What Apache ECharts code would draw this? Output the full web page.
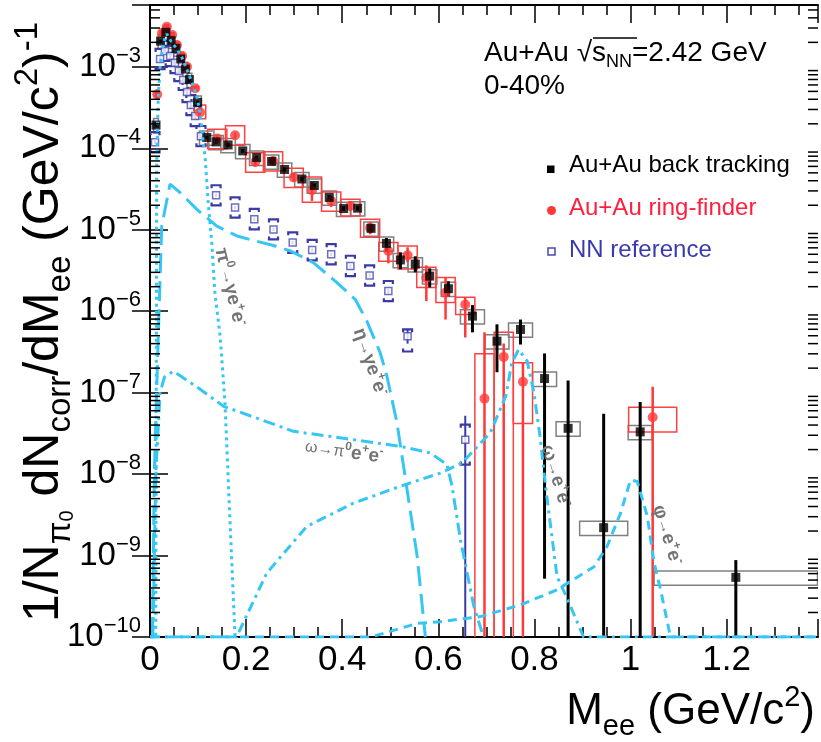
<!DOCTYPE html>
<html>
<head>
<meta charset="utf-8">
<script src="https://cdn.jsdelivr.net/npm/echarts@6/dist/echarts.min.js"></script>
<style>
html, body { margin: 0; padding: 0; background: #fff; }
#chart { width: 821px; height: 742px; }
</style>
</head>
<body>
<div id="chart"></div>
<script>
const FONT = '"Liberation Sans", Arial, Helvetica, sans-serif';
const Y_MIN = 1e-10;
const Y_MAX = 5.75e-3;
const X_MAX = 1.39;
const CURVE = '#35c6f4';
const RED = '#ff3838';
const BLUE = '#3a3aa4';

// Au+Au back tracking
const btX = [0.0125, 0.022, 0.033, 0.044, 0.054, 0.064, 0.0735, 0.082, 0.099, 0.118, 0.1375, 0.1625, 0.193, 0.222, 0.253, 0.28, 0.316, 0.342, 0.373, 0.403, 0.432, 0.46, 0.492, 0.521, 0.552, 0.582, 0.621, 0.671, 0.722, 0.771, 0.821, 0.87, 0.944, 1.02, 1.219];
const btY = [1.93e-4, 2.07e-3, 2.66e-3, 2.10e-3, 1.69e-3, 1.25e-3, 9.4e-4, 6.97e-4, 3.67e-4, 1.36e-4, 1.20e-4, 1.10e-4, 9.3e-5, 7.7e-5, 6.9e-5, 5.5e-5, 4.2e-5, 3.5e-5, 2.5e-5, 1.82e-5, 1.84e-5, 1.04e-5, 6.8e-6, 4.26e-6, 3.79e-6, 2.7e-6, 1.89e-6, 8.7e-7, 4.29e-7, 5.97e-7, 1.49e-7, 3.65e-8, 2.2e-9, 3.3e-8, 5.4e-10];
const btLo = [1.80e-4, 1.99e-3, 2.56e-3, 2.02e-3, 1.62e-3, 1.20e-3, 9.0e-4, 6.7e-4, 3.5e-4, 1.29e-4, 1.14e-4, 1.04e-4, 8.8e-5, 7.3e-5, 6.5e-5, 5.2e-5, 3.95e-5, 3.3e-5, 2.35e-5, 1.7e-5, 1.72e-5, 9.3e-6, 5.4e-6, 3.27e-6, 3.0e-6, 1.96e-6, 1.52e-6, 5.5e-7, 1.78e-7, 3.9e-7, 5.2e-10, 1e-11, 1e-11, 1e-11, 1e-11];
const btHi = [2.07e-4, 2.15e-3, 2.77e-3, 2.18e-3, 1.76e-3, 1.30e-3, 9.8e-4, 7.25e-4, 3.85e-4, 1.43e-4, 1.26e-4, 1.16e-4, 9.8e-5, 8.1e-5, 7.3e-5, 5.8e-5, 4.45e-5, 3.7e-5, 2.65e-5, 1.95e-5, 1.97e-5, 1.16e-5, 7.9e-6, 5.28e-6, 4.72e-6, 3.36e-6, 2.33e-6, 1.19e-6, 6.9e-7, 7.9e-7, 3.03e-7, 1.41e-7, 5.5e-8, 7.7e-8, 8.8e-10];
const btDx = [0.005, 0.005, 0.005, 0.005, 0.005, 0.005, 0.005, 0.005, 0.008, 0.015, 0.015, 0.015, 0.015, 0.015, 0.015, 0.015, 0.015, 0.015, 0.015, 0.015, 0.015, 0.015, 0.015, 0.015, 0.015, 0.015, 0.015, 0.025, 0.025, 0.025, 0.025, 0.025, 0.05, 0.025, 0.17];
const btSys = 0.2;

// Au+Au ring-finder
const rfX = [0.015, 0.025, 0.035, 0.046, 0.056, 0.067, 0.077, 0.094, 0.104, 0.14, 0.177, 0.219, 0.256, 0.299, 0.337, 0.377, 0.417, 0.458, 0.496, 0.536, 0.575, 0.615, 0.656, 0.696, 0.736, 0.776, 1.046];
const rfY = [4.6e-4, 2.61e-3, 3.1e-3, 2.47e-3, 1.86e-3, 1.36e-3, 1.0e-3, 5.46e-4, 2.76e-4, 1.32e-4, 1.45e-4, 6.8e-5, 7.0e-5, 4.4e-5, 3.06e-5, 2.25e-5, 1.96e-5, 1.06e-5, 5.48e-6, 4.85e-6, 2.58e-6, 1.69e-6, 1.21e-6, 8.45e-8, 2.75e-7, 1.36e-7, 5.0e-8];
const rfLo = [4.0e-4, 2.45e-3, 2.9e-3, 2.32e-3, 1.75e-3, 1.28e-3, 9.4e-4, 5.1e-4, 2.55e-4, 1.22e-4, 1.34e-4, 6.0e-5, 6.2e-5, 3.9e-5, 2.26e-5, 1.9e-5, 1.7e-5, 8.8e-6, 3.87e-6, 4.0e-6, 1.33e-6, 7.9e-7, 4.76e-7, 1e-11, 1e-11, 1e-11, 1e-11];
const rfHi = [5.3e-4, 2.78e-3, 3.3e-3, 2.63e-3, 1.98e-3, 1.45e-3, 1.07e-3, 5.8e-4, 2.98e-4, 1.43e-4, 1.57e-4, 7.7e-5, 7.9e-5, 5.0e-5, 3.84e-5, 2.6e-5, 2.25e-5, 1.25e-5, 6.27e-6, 6.1e-6, 3.66e-6, 2.6e-6, 1.48e-6, 5.5e-7, 4.0e-7, 2.33e-7, 1.18e-7];
const rfDx = [0.004, 0.004, 0.004, 0.004, 0.004, 0.004, 0.004, 0.006, 0.012, 0.02, 0.02, 0.02, 0.02, 0.02, 0.02, 0.02, 0.02, 0.02, 0.02, 0.02, 0.02, 0.02, 0.02, 0.02, 0.02, 0.02, 0.05];
const rfSysLo = [4.3e-4, 2.45e-3, 2.9e-3, 2.32e-3, 1.75e-3, 1.28e-3, 9.4e-4, 5.1e-4, 2.3e-4, 9.9e-5, 1.09e-4, 5.1e-5, 5.25e-5, 3.3e-5, 2.18e-5, 1.69e-5, 1.48e-5, 8.1e-6, 4.1e-6, 3.3e-6, 1.96e-6, 1.28e-6, 9.1e-7, 1e-11, 1e-11, 4.17e-8, 3.3e-8];
const rfSysHi = [4.9e-4, 2.78e-3, 3.3e-3, 2.63e-3, 1.98e-3, 1.45e-3, 1.07e-3, 5.8e-4, 3.4e-4, 1.72e-4, 1.89e-4, 8.8e-5, 9.1e-5, 5.7e-5, 4.43e-5, 2.9e-5, 2.37e-5, 1.35e-5, 7.0e-6, 6.3e-6, 3.46e-6, 2.6e-6, 1.48e-6, 3.0e-7, 5.5e-7, 2.33e-7, 6.6e-8];

// NN reference
const nnX = [0.0104, 0.021, 0.031, 0.042, 0.052, 0.06, 0.069, 0.077, 0.085, 0.094, 0.106, 0.1375, 0.177, 0.217, 0.257, 0.297, 0.3375, 0.377, 0.417, 0.457, 0.496, 0.536, 0.656];
const nnY = [1.19e-4, 1.25e-3, 1.57e-3, 1.36e-3, 1.12e-3, 8.9e-4, 6.9e-4, 4.9e-4, 3.4e-4, 2.49e-4, 1.41e-4, 2.65e-5, 1.88e-5, 1.35e-5, 1.01e-5, 6.96e-6, 5.65e-6, 5.0e-6, 3.59e-6, 2.75e-6, 1.77e-6, 4.94e-7, 2.65e-8];
const nnLo = [1.13e-4, 1.19e-3, 1.49e-3, 1.29e-3, 1.06e-3, 8.5e-4, 6.6e-4, 4.65e-4, 3.23e-4, 2.37e-4, 1.34e-4, 2.52e-5, 1.79e-5, 1.28e-5, 9.6e-6, 6.6e-6, 5.37e-6, 4.75e-6, 3.41e-6, 2.6e-6, 1.65e-6, 4.0e-7, 1e-11];
const nnHi = [1.25e-4, 1.31e-3, 1.65e-3, 1.43e-3, 1.18e-3, 9.3e-4, 7.2e-4, 5.15e-4, 3.57e-4, 2.61e-4, 1.48e-4, 2.78e-5, 1.97e-5, 1.42e-5, 1.06e-5, 7.3e-6, 5.93e-6, 5.25e-6, 3.77e-6, 2.9e-6, 1.89e-6, 6.0e-7, 5.2e-8];
const nnSysLo = [8.9e-5, 9.4e-4, 1.18e-3, 1.02e-3, 8.4e-4, 6.7e-4, 5.2e-4, 3.7e-4, 2.55e-4, 1.87e-4, 1.06e-4, 1.99e-5, 1.41e-5, 1.01e-5, 7.6e-6, 5.2e-6, 4.2e-6, 3.75e-6, 2.7e-6, 2.06e-6, 1.33e-6, 3.2e-7, 1.31e-8];
const nnSysHi = [1.58e-4, 1.66e-3, 2.09e-3, 1.81e-3, 1.49e-3, 1.18e-3, 9.2e-4, 6.5e-4, 4.5e-4, 3.3e-4, 1.88e-4, 3.52e-5, 2.5e-5, 1.8e-5, 1.34e-5, 9.3e-6, 7.5e-6, 6.65e-6, 4.8e-6, 3.66e-6, 2.35e-6, 6.0e-7, 4.05e-8];

// cocktail curves
const pi0X = [0.0, 0.012, 0.013, 0.014, 0.017, 0.021, 0.028, 0.035, 0.045, 0.056, 0.066, 0.0765, 0.087, 0.097, 0.104, 0.11, 0.115, 0.121, 0.1285, 0.135, 0.146, 0.156, 0.167, 0.177];
const pi0Y = [1e-10, 1e-10, 1e-7, 6e-5, 4e-4, 1.03e-3, 2.0e-3, 2.54e-3, 2.0e-3, 1.66e-3, 1.32e-3, 9.4e-4, 6.5e-4, 4.4e-4, 2.79e-4, 1.3e-4, 7.4e-5, 2.18e-5, 7.0e-6, 1.7e-6, 4.9e-7, 7.6e-8, 2.25e-9, 1.0e-10];
const etaX = [0.005, 0.009, 0.017, 0.0244, 0.0417, 0.0625, 0.097, 0.139, 0.181, 0.208, 0.257, 0.292, 0.34, 0.389, 0.427, 0.451, 0.479, 0.493, 0.514, 0.535, 0.556, 0.573];
const etaY = [1e-10, 1e-8, 4.5e-7, 1.11e-5, 3.63e-5, 2.87e-5, 1.79e-5, 1.11e-5, 8.4e-6, 7.6e-6, 6.4e-6, 5.5e-6, 3.95e-6, 2.24e-6, 1.4e-6, 7.6e-7, 3.09e-7, 1.59e-7, 4.25e-8, 6.4e-9, 9.7e-10, 1.0e-10];
const omPi0X = [0.006, 0.012, 0.021, 0.03, 0.0485, 0.1, 0.153, 0.2985, 0.4235, 0.521, 0.583, 0.618, 0.6285, 0.646, 0.674, 0.694];
const omPi0Y = [1e-10, 1e-8, 1e-7, 1.55e-7, 1.83e-7, 1.15e-7, 6.8e-8, 3.35e-8, 2.65e-8, 2.19e-8, 1.82e-8, 1.31e-8, 7.1e-9, 1.56e-9, 2.36e-10, 1.0e-10];
const omEeX = [0.0, 0.18, 0.243, 0.326, 0.4235, 0.521, 0.604, 0.649, 0.708, 0.74, 0.753, 0.767, 0.785, 0.799, 0.8125, 0.823, 0.847, 0.86, 0.881, 0.902, 1.39];
const omEeY = [1e-10, 1e-10, 6.1e-10, 2.27e-9, 4.4e-9, 7.1e-9, 1.03e-8, 1.37e-8, 3.2e-8, 9.0e-8, 2.33e-7, 3.39e-7, 2.43e-7, 9.9e-8, 2.65e-8, 7.1e-9, 5.5e-10, 3.8e-10, 1.97e-10, 1.0e-10, 1.0e-10];
const phiX = [0.0, 0.46, 0.556, 0.604, 0.6875, 0.771, 0.847, 0.924, 0.951, 0.979, 1.0, 1.014, 1.035, 1.049, 1.0625, 1.083, 1.39];
const phiY = [1e-10, 1e-10, 1.47e-10, 1.54e-10, 1.78e-10, 2.48e-10, 3.8e-10, 7.3e-10, 1.29e-9, 3.3e-9, 8.5e-9, 8.1e-9, 3.0e-9, 8.1e-10, 3.8e-10, 1.0e-10, 1.0e-10];

// minor tick positions of the log axis (2..9 x 10^n)
const logMinorTicks = [];
for (let d = -10; d <= -3; d++) {
    for (let k = 2; k <= 9; k++) {
        const v = k * Math.pow(10, d);
        if (v < Y_MAX) logMinorTicks.push(v);
    }
}

const zip = (xs, ...cols) => xs.map((x, i) => [x, ...cols.map(c => c[i])]);

function errorBars(xs, lo, hi, color, width, z) {
    return {
        type: 'custom',
        z,
        clip: true,
        silent: true,
        data: zip(xs, lo, hi),
        encode: { x: 0, y: [1, 2] },
        renderItem(params, api) {
            const top = api.coord([api.value(0), api.value(2)]);
            const bottom = api.coord([api.value(0), api.value(1)]);
            return {
                type: 'line',
                shape: { x1: top[0], y1: top[1], x2: bottom[0], y2: bottom[1] },
                style: { stroke: color, lineWidth: width }
            };
        }
    };
}

function sysBoxes(xs, dx, lo, hi, color, z) {
    return {
        type: 'custom',
        z,
        clip: true,
        silent: true,
        data: zip(xs, dx, lo, hi),
        encode: { x: 0, y: [2, 3] },
        renderItem(params, api) {
            const x = api.value(0);
            const w = api.value(1);
            const a = api.coord([x - w, api.value(3)]);
            const b = api.coord([x + w, api.value(2)]);
            return {
                type: 'rect',
                shape: { x: a[0], y: a[1], width: b[0] - a[0], height: b[1] - a[1] },
                style: { fill: 'none', stroke: color, lineWidth: 1.5 }
            };
        }
    };
}

function brackets(xs, lo, hi, color, z) {
    return {
        type: 'custom',
        z,
        clip: true,
        silent: true,
        data: zip(xs, lo, hi),
        encode: { x: 0, y: [1, 2] },
        renderItem(params, api) {
            const top = api.coord([api.value(0), api.value(2)]);
            const bottom = api.coord([api.value(0), api.value(1)]);
            const h = 4.5;
            const style = { stroke: color, lineWidth: 2.2, fill: 'none' };
            return {
                type: 'group',
                children: [
                    { type: 'polyline', shape: { points: [[top[0] - h, top[1] + 3], [top[0] - h, top[1]], [top[0] + h, top[1]], [top[0] + h, top[1] + 3]] }, style },
                    { type: 'polyline', shape: { points: [[bottom[0] - h, bottom[1] - 3], [bottom[0] - h, bottom[1]], [bottom[0] + h, bottom[1]], [bottom[0] + h, bottom[1] - 3]] }, style }
                ]
            };
        }
    };
}

function curve(xs, ys, dash) {
    return {
        type: 'line',
        z: 6,
        silent: true,
        symbol: 'none',
        data: zip(xs, ys),
        lineStyle: { color: CURVE, width: 3, type: dash }
    };
}

const minorTickSeries = {
    type: 'custom',
    z: 10,
    silent: true,
    data: logMinorTicks.map(v => [0, v]),
    encode: { x: 0, y: 1 },
    renderItem(params, api) {
        const rect = params.coordSys;
        const y = api.coord([0, api.value(1)])[1];
        const style = { stroke: '#000', lineWidth: 1.5 };
        return {
            type: 'group',
            children: [
                { type: 'line', shape: { x1: rect.x, y1: y, x2: rect.x + 10, y2: y }, style },
                { type: 'line', shape: { x1: rect.x + rect.width - 10, y1: y, x2: rect.x + rect.width, y2: y }, style }
            ]
        };
    }
};

const axisLine = { show: true, lineStyle: { color: '#000', width: 2 } };
const majorTick = { show: true, inside: true, length: 18, lineStyle: { color: '#000', width: 1.5 } };
const xMinor = { show: true, splitNumber: 4, length: 10, lineStyle: { color: '#000', width: 1.5 } };

const yLabelRich = {
    b: { fontSize: 33, fontFamily: FONT, color: '#000', lineHeight: 44 },
    e: { fontSize: 22, fontFamily: FONT, color: '#000', verticalAlign: 'top', lineHeight: 22 }
};

const annotationRich = {
    t: { fontSize: 19, fontFamily: FONT, fill: '#737373', fontWeight: 'bold', lineHeight: 24 },
    a: { fontSize: 16, fontFamily: FONT, fill: '#737373', lineHeight: 24 },
    p: { fontSize: 12, fontFamily: FONT, fill: '#737373', fontWeight: 'bold', verticalAlign: 'top', lineHeight: 12 }
};

function annotation(text, x, y, deg) {
    return {
        type: 'text',
        x, y,
        rotation: -deg * Math.PI / 180,
        z: 20,
        style: { text, rich: annotationRich, align: 'center', verticalAlign: 'middle' }
    };
}

const chart = echarts.init(document.getElementById('chart'));

chart.setOption({
    animation: false,
    backgroundColor: '#fff',
    grid: { left: 150, right: 3, top: 5, bottom: 105, containLabel: false },
    xAxis: [
        {
            type: 'value', min: 0, max: X_MAX, interval: 0.2, position: 'bottom',
            axisLine, axisTick: majorTick, minorTick: xMinor,
            splitLine: { show: false },
            axisLabel: {
                fontSize: 35, fontFamily: FONT, color: '#000', margin: 6, showMaxLabel: false,
                formatter: v => (v === 0 ? '0' : String(+v.toFixed(1)))
            }
        },
        {
            type: 'value', min: 0, max: X_MAX, interval: 0.2, position: 'top',
            axisLine, axisTick: majorTick, minorTick: xMinor,
            splitLine: { show: false }, axisLabel: { show: false }
        }
    ],
    yAxis: [
        {
            type: 'log', logBase: 10, min: Y_MIN, max: Y_MAX, splitNumber: 8, position: 'left',
            axisLine, axisTick: majorTick,
            splitLine: { show: false },
            axisLabel: {
                margin: 9, showMaxLabel: false, rich: yLabelRich,
                formatter: v => `{b|10}{e|\u2212${-Math.round(Math.log10(v))}}`
            }
        },
        {
            type: 'log', logBase: 10, min: Y_MIN, max: Y_MAX, splitNumber: 8, position: 'right',
            axisLine, axisTick: majorTick,
            splitLine: { show: false }, axisLabel: { show: false }
        }
    ],
    series: [
        sysBoxes(btX, btDx, btY.map(v => v * (1 - btSys)), btY.map(v => v * (1 + btSys)), '#808080', 2),
        sysBoxes(rfX, rfDx, rfSysLo, rfSysHi, '#ff4040', 2),
        brackets(nnX, nnSysLo, nnSysHi, BLUE, 3),
        errorBars(rfX, rfLo, rfHi, RED, 2.5, 3),
        errorBars(btX, btLo, btHi, '#000', 3, 3),
        errorBars(nnX, nnLo, nnHi, BLUE, 2, 3),
        {
            type: 'scatter', name: 'NN reference', z: 4, silent: true,
            data: zip(nnX, nnY), symbol: 'rect', symbolSize: 7,
            itemStyle: { color: '#fff', borderColor: '#4848b0', borderWidth: 1.5 }
        },
        {
            type: 'scatter', name: 'Au+Au ring-finder', z: 4, silent: true,
            data: zip(rfX, rfY), symbol: 'circle', symbolSize: 10,
            itemStyle: { color: RED }
        },
        {
            type: 'scatter', name: 'Au+Au back tracking', z: 5, silent: true,
            data: zip(btX, btY), symbol: 'rect', symbolSize: 9,
            itemStyle: { color: '#000' }
        },
        curve(pi0X, pi0Y, [3, 4]),
        curve(etaX, etaY, [20, 8]),
        curve(omPi0X, omPi0Y, [12, 5, 3, 5]),
        curve(omEeX, omEeY, [10, 5, 3, 5]),
        curve(phiX, phiY, [9, 6]),
        minorTickSeries
    ],
    graphic: [
        // axis titles
        {
            type: 'text', x: 44, y: 322, rotation: Math.PI / 2, z: 20,
            style: {
                text: '{n|1/N}{s|\u03c0}{q|0}{n| dN}{s|corr}{n|/dM}{s|ee}{n| (GeV/c}{p|2}{n|)}{p|-1}',
                align: 'center', verticalAlign: 'middle',
                rich: {
                    n: { fontSize: 50, fontFamily: FONT, fill: '#000', lineHeight: 66 },
                    s: { fontSize: 33, fontFamily: FONT, fill: '#000', verticalAlign: 'bottom', lineHeight: 33 },
                    q: { fontSize: 20, fontFamily: FONT, fill: '#000', verticalAlign: 'bottom', lineHeight: 58 },
                    p: { fontSize: 33, fontFamily: FONT, fill: '#000', verticalAlign: 'top', lineHeight: 33 }
                }
            }
        },
        {
            type: 'text', x: 815, y: 712, z: 20,
            style: {
                text: '{n|M}{s|ee}{n| (GeV/c}{p|2}{n|)}',
                align: 'right', verticalAlign: 'middle',
                rich: {
                    n: { fontSize: 44, fontFamily: FONT, fill: '#000', lineHeight: 58 },
                    s: { fontSize: 29, fontFamily: FONT, fill: '#000', verticalAlign: 'bottom', lineHeight: 29 },
                    p: { fontSize: 29, fontFamily: FONT, fill: '#000', verticalAlign: 'top', lineHeight: 29 }
                }
            }
        },
        // header
        {
            type: 'text', x: 484, y: 53, z: 20,
            style: {
                text: '{n|Au+Au }{n|\u221a}{n|s}{s|NN}{n|=2.42 GeV}',
                align: 'left', verticalAlign: 'middle',
                rich: {
                    n: { fontSize: 28, fontFamily: FONT, fill: '#000', lineHeight: 36 },
                    s: { fontSize: 18, fontFamily: FONT, fill: '#000', verticalAlign: 'bottom', lineHeight: 18 }
                }
            }
        },
        { type: 'line', z: 20, shape: { x1: 593, y1: 38, x2: 637, y2: 38 }, style: { stroke: '#000', lineWidth: 1.5 } },
        {
            type: 'text', x: 484, y: 86, z: 20,
            style: { text: '0-40%', fontSize: 28, fontFamily: FONT, fill: '#000', align: 'left', verticalAlign: 'middle' }
        },
        // legend
        { type: 'rect', z: 20, shape: { x: 547, y: 165.5, width: 7.5, height: 7.5 }, style: { fill: '#000' } },
        { type: 'text', x: 569, y: 165, z: 20, style: { text: 'Au+Au back tracking', fontSize: 24, fontFamily: FONT, fill: '#000', verticalAlign: 'middle' } },
        { type: 'circle', z: 20, shape: { cx: 551.5, cy: 210.5, r: 4.5 }, style: { fill: RED } },
        { type: 'text', x: 569, y: 208, z: 20, style: { text: 'Au+Au ring-finder', fontSize: 24, fontFamily: FONT, fill: '#ff2040', verticalAlign: 'middle' } },
        { type: 'rect', z: 20, shape: { x: 548, y: 248, width: 7, height: 7 }, style: { fill: '#fff', stroke: '#4848b0', lineWidth: 1.5 } },
        { type: 'text', x: 569, y: 250, z: 20, style: { text: 'NN reference', fontSize: 24, fontFamily: FONT, fill: '#3a3ab0', verticalAlign: 'middle' } },
        // cocktail labels
        annotation('{t|\u03c0}{p|0}{a|\u2192}{t|\u03b3e}{p|+}{t|e}{p|-}', 230, 287, 76),
        annotation('{t|\u03b7}{a|\u2192}{t|\u03b3e}{p|+}{t|e}{p|-}', 370, 362, 71),
        annotation('{a|\u03c9\u2192\u03c0}{p|0}{t|e}{p|+}{t|e}{p|-}', 344, 452, 8),
        annotation('{t|\u03c9}{a|\u2192}{t|e}{p|+}{t|e}{p|-}', 556, 476, 73),
        annotation('{t|\u03c6}{a|\u2192}{t|e}{p|+}{t|e}{p|-}', 667, 535, 73)
    ]
});
</script>
</body>
</html>
